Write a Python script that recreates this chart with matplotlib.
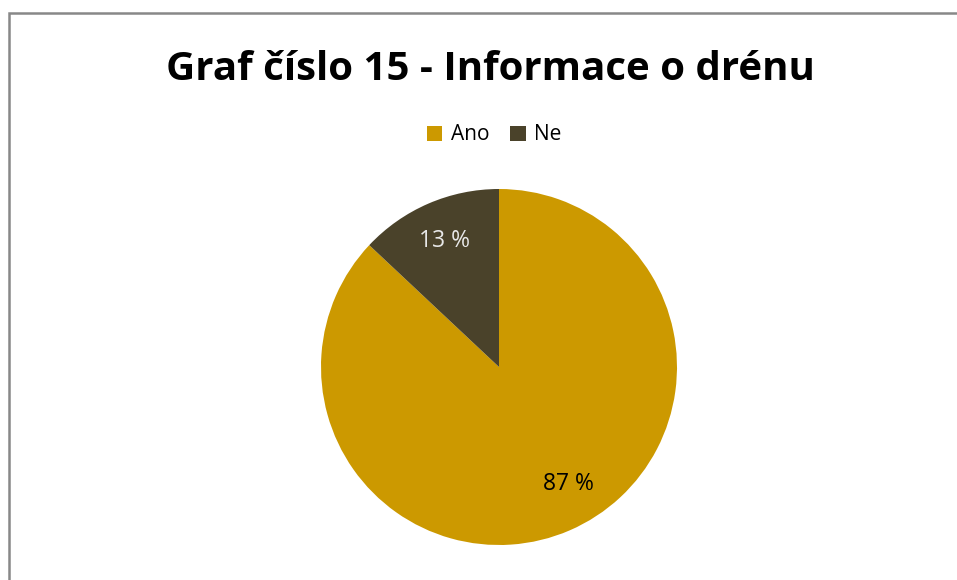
import matplotlib.pyplot as plt
from matplotlib.patches import Rectangle, Patch

labels = ['Ano', 'Ne']
values = [87, 13]
colors = ['#CC9900', '#4A422A']
label_colors = ['black', '#E8E8E8']

W, H = 957, 580
fig = plt.figure(figsize=(W / 100, H / 100), dpi=100)
plt.rcParams['font.family'] = ['Open Sans', 'DejaVu Sans']

# gray chart border (right and bottom run off the image)
fig.patches.append(Rectangle((9 / W, -0.1), 1.2, (H - 13) / H + 0.1, transform=fig.transFigure,
                             fill=False, edgecolor='#888888', linewidth=1.8))

ax = fig.add_axes([321 / W, 35 / H, 356 / W, 356 / H])
wedges, texts, autotexts = ax.pie(values, colors=colors, startangle=90, counterclock=False,
                                  autopct='%d %%', pctdistance=0.77,
                                  textprops={'fontsize': 16.5})
for t, c in zip(autotexts, label_colors):
    t.set_color(c)
# excel puts the big slice label a bit further right
autotexts[0].set_position((0.39, -0.66))
ax.set_xlim(-1, 1)
ax.set_ylim(-1, 1)
ax.set_aspect('equal')

fig.text(490 / W, 1 - 70 / H, 'Graf číslo 15 - Informace o drénu', ha='center', va='center',
         fontsize=29, fontweight='bold')

handles = [Patch(facecolor=c, label=l) for c, l in zip(colors, labels)]
fig.legend(handles=handles, loc='center', bbox_to_anchor=(494 / W, 1 - 135 / H), ncol=2,
           frameon=False, fontsize=15, handlelength=0.75, handleheight=0.75,
           handletextpad=0.4, columnspacing=1.0)

fig.savefig('out.png', dpi=100)
